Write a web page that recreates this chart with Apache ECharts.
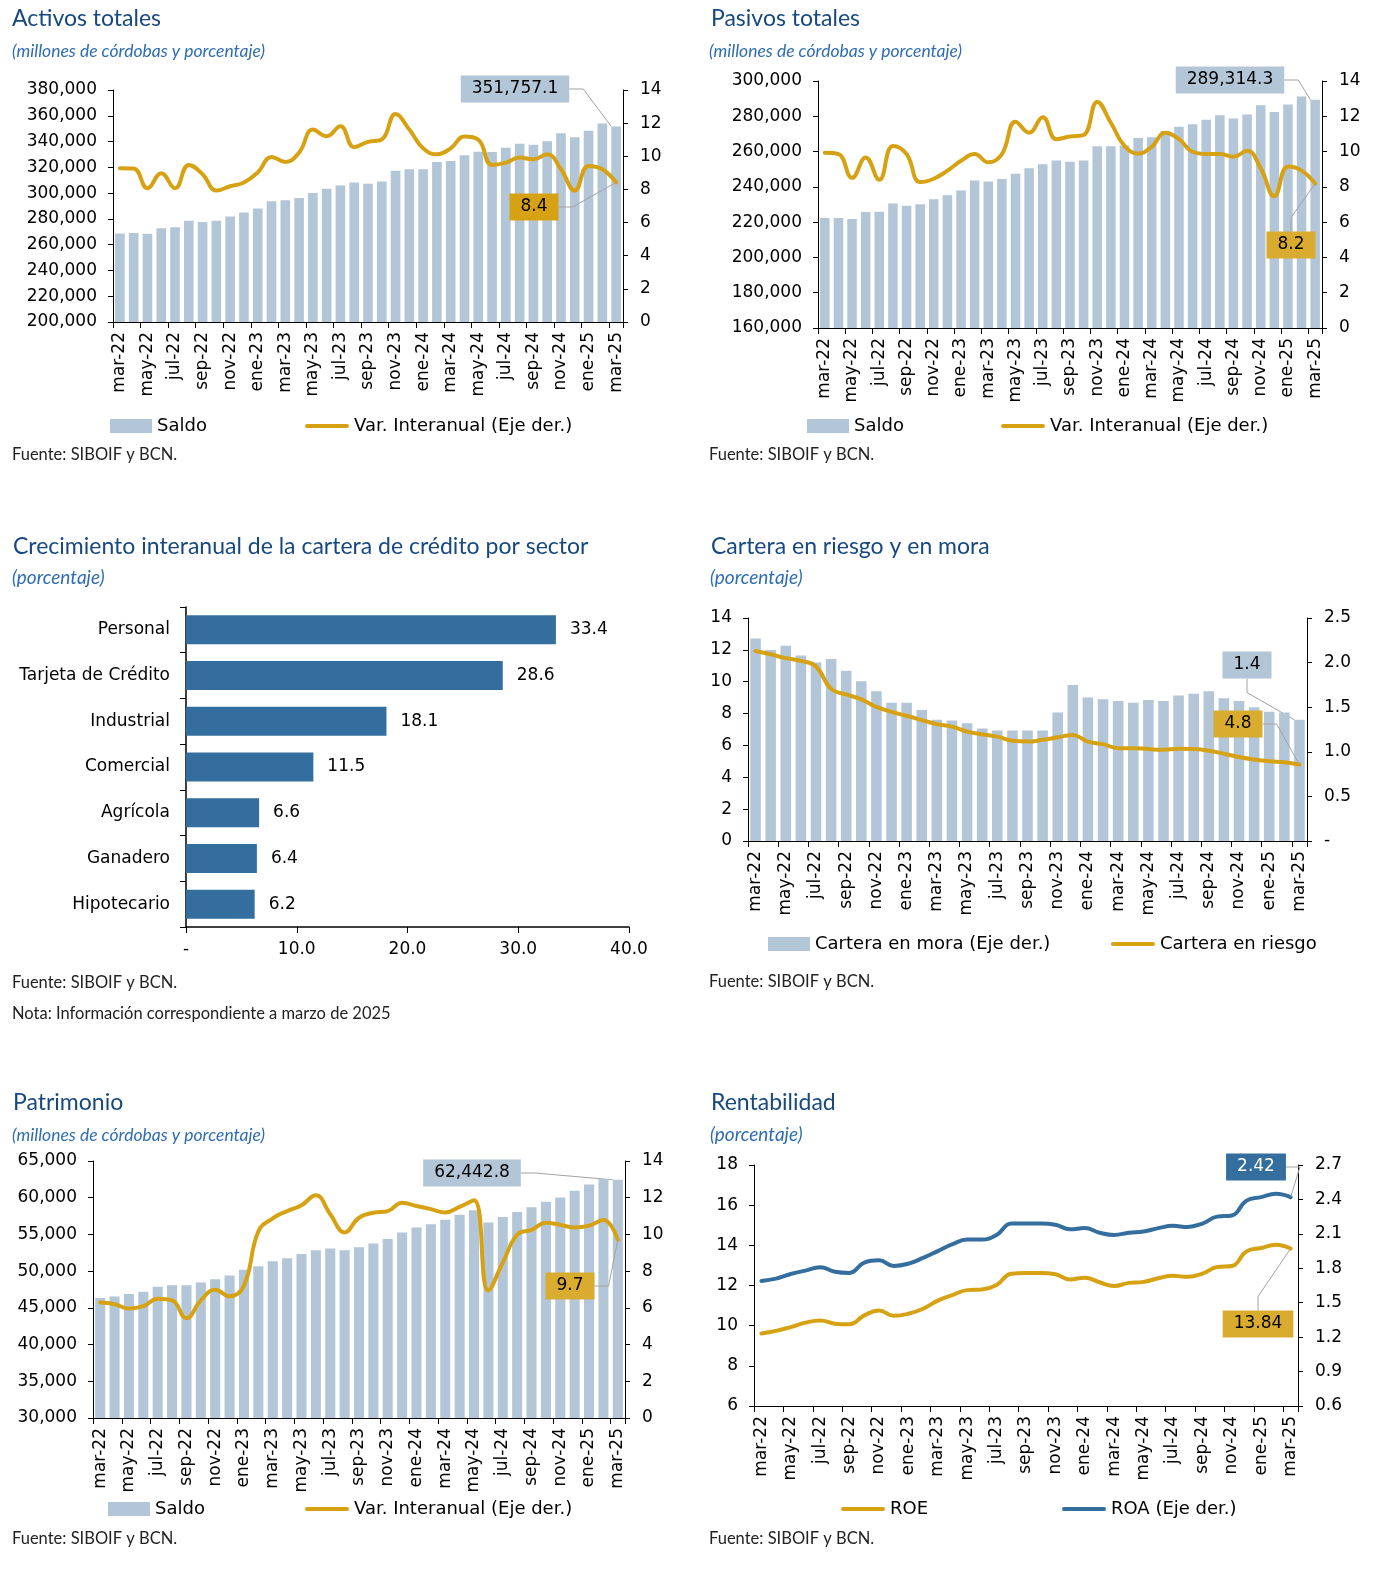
<!DOCTYPE html>
<html><head><meta charset="utf-8">
<script src="https://cdn.jsdelivr.net/npm/echarts@6/dist/echarts.min.js"></script>
<style>html,body{margin:0;padding:0;background:#fff}#c{width:1389px;height:1587px}</style>
</head><body><div id="c"></div>
<script>
// ---------- DATA ----------
const months = ['mar-22','abr-22','may-22','jun-22','jul-22','ago-22','sep-22','oct-22','nov-22','dic-22','ene-23','feb-23','mar-23','abr-23','may-23','jun-23','jul-23','ago-23','sep-23','oct-23','nov-23','dic-23','ene-24','feb-24','mar-24','abr-24','may-24','jun-24','jul-24','ago-24','sep-24','oct-24','nov-24','dic-24','ene-25','feb-25','mar-25'];

const activosSaldo = [268600,269100,268400,272700,273500,278600,277600,278600,281900,285000,288100,293700,294500,296300,300100,303400,306000,308300,307300,309100,317300,318500,318500,324200,324900,329300,332100,331900,335200,338300,337500,340300,346500,343400,348300,354100,351757.1];
const activosVar = [9.28,9.26,8.07,8.98,8.07,9.48,8.92,7.93,8.19,8.42,9.02,9.96,9.66,10.22,11.61,11.21,11.81,10.55,10.87,11.01,12.55,11.61,10.48,10.12,10.48,11.19,11.01,9.48,9.62,9.92,9.82,10.12,9.22,7.93,9.42,9.22,8.42];

const pasivosSaldo = [222350,222350,221800,225700,225900,230600,229300,230200,233000,235200,238000,243600,243100,244400,247500,250500,252800,255000,254300,255000,263000,263000,263400,267700,268100,271600,274100,275500,278000,280600,278700,281000,286200,282500,286700,291200,289314.3];
const pasivosVar = [9.93,9.86,8.51,9.67,8.40,10.32,9.86,8.27,8.46,8.92,9.48,9.86,9.39,9.86,11.69,11.07,11.95,10.70,10.85,10.94,12.81,11.63,10.32,9.89,10.27,11.07,10.70,9.99,9.86,9.86,9.71,10.04,9.05,7.47,9.15,8.92,8.18];

const sectores = ['Personal','Tarjeta de Crédito','Industrial','Comercial','Agrícola','Ganadero','Hipotecario'];
const crecimientoSector = [33.4,28.6,18.1,11.5,6.6,6.4,6.2];

const carteraRiesgo = [11.93,11.72,11.48,11.31,10.96,9.55,9.20,8.89,8.42,8.11,7.86,7.59,7.34,7.18,6.87,6.70,6.55,6.29,6.24,6.35,6.51,6.66,6.24,6.08,5.83,5.83,5.77,5.73,5.79,5.77,5.67,5.48,5.27,5.11,5.00,4.94,4.80];
const carteraMora = [2.27,2.14,2.19,2.08,2.00,2.04,1.91,1.79,1.68,1.55,1.55,1.47,1.36,1.35,1.32,1.26,1.24,1.24,1.24,1.24,1.44,1.75,1.61,1.59,1.57,1.55,1.58,1.57,1.63,1.65,1.68,1.60,1.57,1.50,1.45,1.44,1.36];

const patrimonioSaldo = [46340,46560,46880,47190,47860,48080,48080,48440,48880,49420,50180,50670,51340,51740,52320,52860,53080,52860,53260,53750,54380,55270,55940,56380,57010,57680,58300,56610,57370,58040,58710,59460,60040,60940,61790,62550,62442.8];
const patrimonioVar = [6.29,6.20,5.96,6.09,6.50,6.41,5.43,6.41,6.98,6.63,7.21,10.16,10.88,11.27,11.59,12.13,11.10,10.11,10.91,11.18,11.27,11.73,11.55,11.38,11.20,11.50,11.86,6.95,8.46,9.98,10.25,10.64,10.52,10.38,10.48,10.79,9.71];

const roe = [9.61,9.74,9.93,10.15,10.26,10.10,10.07,10.51,10.75,10.49,10.59,10.84,11.25,11.52,11.77,11.80,12.03,12.59,12.62,12.62,12.56,12.30,12.39,12.16,11.98,12.13,12.18,12.36,12.48,12.43,12.59,12.92,12.97,13.70,13.87,14.03,13.84];
const roa = [1.69,1.71,1.75,1.78,1.81,1.77,1.76,1.85,1.87,1.82,1.84,1.89,1.95,2.01,2.05,2.05,2.09,2.19,2.19,2.19,2.18,2.14,2.15,2.11,2.09,2.11,2.12,2.15,2.17,2.16,2.19,2.25,2.26,2.39,2.42,2.45,2.42];

// ---------- STYLE ----------
const FONT = 'DejaVu Sans';
const TFONT = 'Lato';
const BAR_LIGHT = '#B3C6D8';
const GOLD = '#D6A214';
const GOLD_BOX = '#D9AB2F';
const BLUE = '#336E9E';
const TITLE_C = '#17497F';
const SUB_C = '#2E6DB2';
const T_SIZE = 23, SUB_M = 17.5, SUB_P = 19, SRC = 16.5;
const lab = {fontFamily: FONT, fontSize: 17, color: '#000'};
const legLab = {fontFamily: FONT, fontSize: 18, color: '#000'};
const thousands = v => v.toLocaleString('en-US');
const thousands1 = v => v.toLocaleString('en-US', {minimumFractionDigits: 1, maximumFractionDigits: 1});
const fixed = n => v => v.toFixed(n);
const LINE_ICON = 'path://M2,0 L42,0 A2,2 0 0 1 42,4 L2,4 A2,2 0 0 1 2,0 Z';

const grids = [], xAxes = [], yAxes = [], series = [], legends = [], titles = [];

function addText(text, left, cy, size, color, italic, font) {
  titles.push({text, left, top: cy - size * 0.6, padding: 0,
    textStyle: {fontFamily: font || TFONT, fontSize: size, color, fontStyle: italic ? 'italic' : 'normal', fontWeight: 'normal'}});
}
function lastLabel(arr) {
  return arr.map((v, i) => i === arr.length - 1 ? {value: v, label: {show: true}} : v);
}
function boxLabel(fmt, bg, fg, pos) {
  return {
    label: {show: false, formatter: p => fmt(p.value), backgroundColor: bg, color: fg, padding: [5, 11],
      fontFamily: FONT, fontSize: 17},
    labelLayout: {x: pos[0], y: pos[1], align: 'center', verticalAlign: 'middle'},
    labelLine: {show: true, length2: 14, smooth: false, lineStyle: {color: '#A3A3A3', width: 1}}
  };
}
function valueAxis(gi, position, a) {
  return {type: 'value', gridIndex: gi, position, min: a.min, max: a.max, interval: a.interval,
    axisLine: {show: true, onZero: false, lineStyle: {color: '#000', width: 1}},
    axisTick: {show: true, length: 5, lineStyle: {color: '#000'}},
    splitLine: {show: false},
    axisLabel: Object.assign({formatter: a.fmt, margin: position === 'left' ? 16 : 17}, lab)};
}
function legendItem(name, icon, left, cy) {
  legends.push({left, top: cy - 10, padding: 0, selectedMode: false,
    itemWidth: icon === 'rect' ? 42 : 44, itemHeight: 14,
    data: [{name, icon}], textStyle: legLab});
}
function timePanel(p) {
  const gi = grids.length;
  grids.push({left: p.grid[0], top: p.grid[1], width: p.grid[2], height: p.grid[3], containLabel: false, outerBoundsMode: 'none'});
  xAxes.push({type: 'category', gridIndex: gi, data: months, boundaryGap: true,
    axisLine: {show: true, lineStyle: {color: '#000', width: 1}},
    axisTick: {show: true, interval: 1, length: 6, lineStyle: {color: '#000'}},
    axisLabel: Object.assign({interval: 1, rotate: 90, margin: 10}, lab)});
  const yi = yAxes.length;
  yAxes.push(valueAxis(gi, 'left', p.left));
  yAxes.push(valueAxis(gi, 'right', p.right));
  p.series.forEach(s => {
    let def;
    if (s.kind === 'bar') {
      def = Object.assign({type: 'bar', name: s.name, data: lastLabel(s.data), barWidth: '70%',
        itemStyle: {color: BAR_LIGHT}, z: 2}, boxLabel(s.fmt, s.bg, s.fg, s.pos));
    } else {
      def = Object.assign({type: 'line', name: s.name, data: lastLabel(s.data), smooth: 0.45,
        symbol: 'circle', symbolSize: 1, showSymbol: true, showAllSymbol: true,
        lineStyle: {width: 4, color: s.color, cap: 'round'}, itemStyle: {color: s.color}, z: 3},
        boxLabel(s.fmt, s.bg, s.fg, s.pos));
    }
    def.xAxisIndex = gi; def.yAxisIndex = yi + s.axis; def.silent = true;
    series.push(def);
  });
}

// ---------- PANEL 1: Activos ----------
addText('Activos totales', 12, 21, T_SIZE, TITLE_C);
addText('(millones de córdobas y porcentaje)', 12, 53, SUB_M, SUB_C, true);
timePanel({grid: [113, 90, 510, 232],
  left: {min: 200000, max: 380000, interval: 20000, fmt: thousands},
  right: {min: 0, max: 14, interval: 2, fmt: v => String(v)},
  series: [
    {kind: 'bar', name: 'Saldo', data: activosSaldo, axis: 0, fmt: thousands1, bg: BAR_LIGHT, fg: '#000', pos: [515, 89]},
    {kind: 'line', name: 'Var. Interanual (Eje der.)', data: activosVar, axis: 1, color: GOLD, fmt: fixed(1), bg: GOLD, fg: '#000', pos: [534, 207]}
  ]});
legendItem('Saldo', 'rect', 110, 427);
legendItem('Var. Interanual (Eje der.)', LINE_ICON, 305, 427);
addText('Fuente: SIBOIF y BCN.', 12, 456, SRC, '#222');

// ---------- PANEL 2: Pasivos ----------
addText('Pasivos totales', 711, 21, T_SIZE, TITLE_C);
addText('(millones de córdobas y porcentaje)', 709, 53, SUB_M, SUB_C, true);
timePanel({grid: [818, 81, 504, 247],
  left: {min: 160000, max: 300000, interval: 20000, fmt: thousands},
  right: {min: 0, max: 14, interval: 2, fmt: v => String(v)},
  series: [
    {kind: 'bar', name: 'Saldo', data: pasivosSaldo, axis: 0, fmt: thousands1, bg: BAR_LIGHT, fg: '#000', pos: [1230, 80]},
    {kind: 'line', name: 'Var. Interanual (Eje der.)', data: pasivosVar, axis: 1, color: GOLD, fmt: fixed(1), bg: GOLD_BOX, fg: '#000', pos: [1291, 245]}
  ]});
legendItem('Saldo', 'rect', 807, 427);
legendItem('Var. Interanual (Eje der.)', LINE_ICON, 1001, 427);
addText('Fuente: SIBOIF y BCN.', 709, 456, SRC, '#222');

// ---------- PANEL 3: Sector bars ----------
addText('Crecimiento interanual de la cartera de crédito por sector', 13, 549, T_SIZE, TITLE_C);
addText('(porcentaje)', 12, 580, SUB_P, SUB_C, true);
(function () {
  const gi = grids.length;
  grids.push({left: 186, top: 607, width: 443, height: 320, containLabel: false, outerBoundsMode: 'none'});
  xAxes.push({type: 'value', gridIndex: gi, min: 0, max: 40, interval: 10,
    axisLine: {show: true, lineStyle: {color: '#000', width: 1.5}},
    axisTick: {show: true, length: 6, lineStyle: {color: '#000'}},
    splitLine: {show: false},
    axisLabel: Object.assign({formatter: v => v === 0 ? '-' : v.toFixed(1), margin: 14}, lab)});
  const yi = yAxes.length;
  yAxes.push({type: 'category', gridIndex: gi, data: sectores, inverse: true,
    axisLine: {show: true, lineStyle: {color: '#000', width: 1.5}},
    axisTick: {show: true, length: 6, lineStyle: {color: '#000'}},
    axisLabel: Object.assign({margin: 16}, lab)});
  series.push({type: 'bar', name: 'Crecimiento', xAxisIndex: gi, yAxisIndex: yi, data: crecimientoSector,
    barWidth: 29, silent: true, itemStyle: {color: BLUE},
    label: Object.assign({show: true, position: 'right', distance: 14, formatter: p => p.value.toFixed(1)}, lab)});
})();
addText('Fuente: SIBOIF y BCN.', 12, 984, SRC, '#222');
addText('Nota: Información correspondiente a marzo de 2025', 12, 1015, SRC, '#222');

// ---------- PANEL 4: Cartera ----------
addText('Cartera en riesgo y en mora', 711, 549, T_SIZE, TITLE_C);
addText('(porcentaje)', 710, 580, SUB_P, SUB_C, true);
timePanel({grid: [748, 618, 559, 223],
  left: {min: 0, max: 14, interval: 2, fmt: v => String(v)},
  right: {min: 0, max: 2.5, interval: 0.5, fmt: v => v === 0 ? '-' : v.toFixed(1)},
  series: [
    {kind: 'bar', name: 'Cartera en mora (Eje der.)', data: carteraMora, axis: 1, fmt: fixed(1), bg: BAR_LIGHT, fg: '#000', pos: [1247, 665]},
    {kind: 'line', name: 'Cartera en riesgo', data: carteraRiesgo, axis: 0, color: GOLD, fmt: fixed(1), bg: GOLD_BOX, fg: '#000', pos: [1238, 724]}
  ]});
legendItem('Cartera en mora (Eje der.)', 'rect', 768, 945);
legendItem('Cartera en riesgo', LINE_ICON, 1111, 945);
addText('Fuente: SIBOIF y BCN.', 709, 983, SRC, '#222');

// ---------- PANEL 5: Patrimonio ----------
addText('Patrimonio', 13, 1105, T_SIZE, TITLE_C);
addText('(millones de córdobas y porcentaje)', 12, 1137, SUB_M, SUB_C, true);
timePanel({grid: [93, 1161, 532, 257],
  left: {min: 30000, max: 65000, interval: 5000, fmt: thousands},
  right: {min: 0, max: 14, interval: 2, fmt: v => String(v)},
  series: [
    {kind: 'bar', name: 'Saldo', data: patrimonioSaldo, axis: 0, fmt: thousands1, bg: BAR_LIGHT, fg: '#000', pos: [472, 1173]},
    {kind: 'line', name: 'Var. Interanual (Eje der.)', data: patrimonioVar, axis: 1, color: GOLD, fmt: fixed(1), bg: GOLD_BOX, fg: '#000', pos: [570, 1286]}
  ]});
legendItem('Saldo', 'rect', 108, 1510);
legendItem('Var. Interanual (Eje der.)', LINE_ICON, 305, 1510);
addText('Fuente: SIBOIF y BCN.', 12, 1540, SRC, '#222');

// ---------- PANEL 6: Rentabilidad ----------
addText('Rentabilidad', 711, 1105, T_SIZE, TITLE_C);
addText('(porcentaje)', 710, 1137, SUB_P, SUB_C, true);
timePanel({grid: [754, 1165, 544, 241],
  left: {min: 6, max: 18, interval: 2, fmt: v => String(v)},
  right: {min: 0.6, max: 2.7, interval: 0.3, fmt: v => v.toFixed(1)},
  series: [
    {kind: 'line', name: 'ROE', data: roe, axis: 0, color: GOLD, fmt: fixed(2), bg: GOLD_BOX, fg: '#000', pos: [1258, 1324]},
    {kind: 'line', name: 'ROA (Eje der.)', data: roa, axis: 1, color: BLUE, fmt: fixed(2), bg: BLUE, fg: '#fff', pos: [1256, 1167]}
  ]});
legendItem('ROE', LINE_ICON, 841, 1510);
legendItem('ROA (Eje der.)', LINE_ICON, 1062, 1510);
addText('Fuente: SIBOIF y BCN.', 709, 1540, SRC, '#222');

const chart = echarts.init(document.getElementById('c'), null, {renderer: 'canvas'});
chart.setOption({
  animation: false,
  backgroundColor: '#fff',
  title: titles,
  legend: legends,
  grid: grids,
  xAxis: xAxes,
  yAxis: yAxes,
  series: series,
  tooltip: {show: false}
});
</script></body></html>
